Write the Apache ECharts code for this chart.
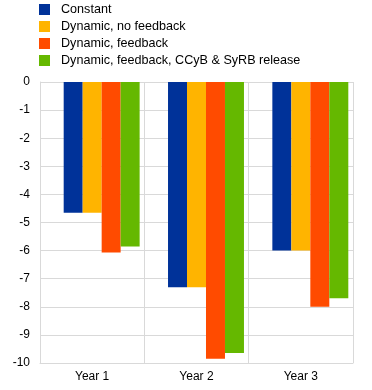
<!DOCTYPE html>
<html><head><meta charset="utf-8">
<script src="https://cdn.jsdelivr.net/npm/echarts@6/dist/echarts.min.js"></script>
<style>html,body{margin:0;padding:0;background:#fff}#c{width:372px;height:390px}</style>
</head><body><div id="c"></div>
<script>
const categories = ['Year 1', 'Year 2', 'Year 3'];
const seriesNames = ['Constant', 'Dynamic, no feedback', 'Dynamic, feedback', 'Dynamic, feedback, CCyB & SyRB release'];
const constant = [-4.65, -7.3, -6.0];
const dynNoFeedback = [-4.65, -7.3, -6.0];
const dynFeedback = [-6.07, -9.85, -8.0];
const dynFeedbackRelease = [-5.85, -9.64, -7.7];
const colors = ['#003299', '#ffb400', '#ff4b00', '#65b800'];

const data = [constant, dynNoFeedback, dynFeedback, dynFeedbackRelease];
const chart = echarts.init(document.getElementById('c'));
const font = 'Liberation Sans, Arial, sans-serif';
// an empty leading slot (as in the original chart) shifts each bar group right
const series = [{ name: '_blank', type: 'bar', data: [], barGap: '0%', barCategoryGap: '9%' }].concat(
  seriesNames.map((n, i) => ({
    name: n, type: 'bar', data: data[i],
    itemStyle: { color: colors[i] },
    barGap: '0%', barCategoryGap: '9%'
  })));
chart.setOption({
  animation: false,
  textStyle: { fontFamily: font },
  legend: {
    orient: 'vertical', left: 39, top: 3, padding: 0,
    itemWidth: 11, itemHeight: 11, itemGap: 4,
    icon: 'rect',
    textStyle: { fontSize: 12.6, color: '#000', fontFamily: font, padding: [0, 0, 0, 6] },
    data: seriesNames
  },
  grid: { left: 40, right: 19, top: 82, bottom: 27, containLabel: false },
  xAxis: {
    type: 'category', data: categories, position: 'bottom',
    axisLine: { show: true, onZero: false, lineStyle: { color: '#d9d9d9', width: 1 } },
    axisTick: { show: false },
    splitLine: { show: true, lineStyle: { color: '#d9d9d9' } },
    axisLabel: { color: '#000', fontSize: 12, fontFamily: font, margin: 8 }
  },
  yAxis: {
    type: 'value', min: -10, max: 0, interval: 1,
    axisLine: { show: true, lineStyle: { color: '#d9d9d9' } },
    axisTick: { show: false },
    splitLine: { show: true, lineStyle: { color: '#d9d9d9' } },
    axisLabel: { color: '#000', fontSize: 12, fontFamily: font, margin: 10 }
  },
  series: series
});
</script></body></html>
